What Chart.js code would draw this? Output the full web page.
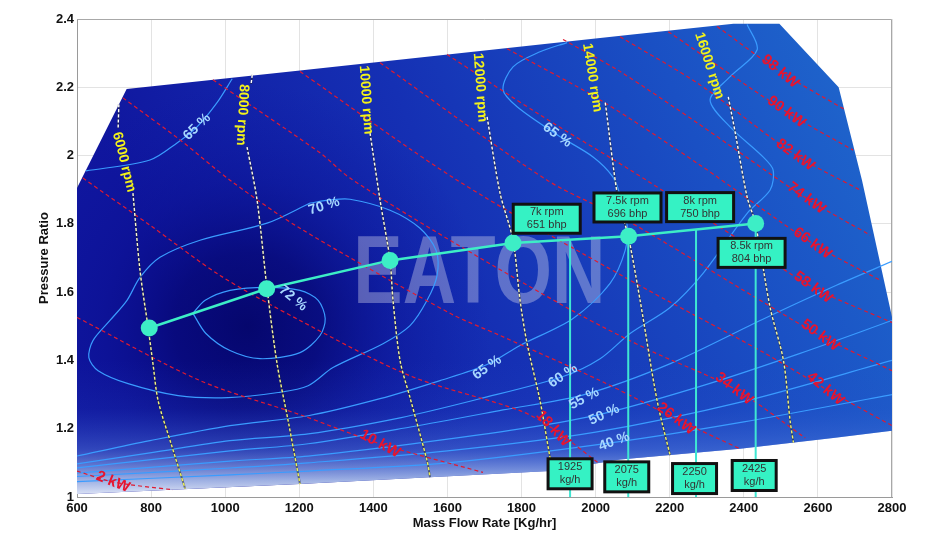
<!DOCTYPE html>
<html>
<head>
<meta charset="utf-8">
<title>Compressor map</title>
<script src="https://cdn.jsdelivr.net/npm/chart.js@4.4.1/dist/chart.umd.min.js"></script>
<style>
  html, body { margin: 0; padding: 0; background: #fff; }
  canvas { display: block; }
</style>
</head>
<body>
<canvas id="mapChart" width="943" height="546"></canvas>
<script>
// values: [mass flow kg/h, pressure ratio]
var flowTicks = [600, 2800, 200];
var prTicks = [1, 2.4, 0.2];

// map outline
var fieldTop = [[600,1.905],[734,2.195],[1202,2.249],[2093,2.354],[2372,2.386],[2496,2.386],[2656,2.2],[2719,1.928],[2800,1.527]];
var fieldBottom = [[600,1.009],[1200,1.038],[1877,1.076],[2066,1.11],[2390,1.141],[2641,1.173],[2800,1.194]];

// efficiency contours
var eff72 = [[913,1.538],[948,1.479],[1013,1.429],[1094,1.405],[1202,1.423],[1256,1.473],[1270,1.523],[1251,1.576],[1202,1.605],[1113,1.614],[1013,1.605],[946,1.576],[913,1.538]];
var eff70 = [[1229,1.861],[1113,1.802],[932,1.752],[824,1.702],[770,1.643],[735,1.576],[689,1.517],[643,1.458],[632,1.408],[657,1.37],[738,1.332],[873,1.297],[1008,1.291],[1143,1.306],[1224,1.326],[1291,1.379],[1426,1.449],[1499,1.502],[1545,1.576],[1572,1.649],[1569,1.723],[1526,1.787],[1445,1.84],[1337,1.872],[1283,1.87],[1229,1.861]];
var eff65a = [[624,1.955],[797,1.987],[870,2.037],[924,2.084],[978,2.155],[1019,2.225]];
var eff65 = [[600,1.12],[797,1.165],[1013,1.209],[1224,1.238],[1418,1.288],[1580,1.341],[1707,1.388],[1796,1.444],[1939,1.523],[2039,1.626],[2080,1.723],[2085,1.796],[2066,1.884],[2047,1.937],[1993,1.996],[1896,2.061],[1788,2.143],[1750,2.193],[1777,2.26],[1850,2.304],[1923,2.331]];
var eff60 = [[600,1.097],[797,1.129],[1013,1.165],[1224,1.185],[1472,1.232],[1688,1.288],[1912,1.353],[2012,1.405],[2093,1.479],[2201,1.555],[2290,1.655],[2409,1.831],[2471,1.899],[2479,1.958],[2452,1.996],[2363,2.084],[2309,2.163],[2363,2.231],[2436,2.31],[2409,2.384]];
var eff55 = [[600,1.085],[1013,1.135],[1224,1.156],[1500,1.205],[1750,1.255],[1969,1.3],[2200,1.39],[2450,1.52],[2650,1.62],[2800,1.69]];
var eff50 = [[600,1.07],[1013,1.105],[1224,1.12],[1500,1.155],[1800,1.2],[2023,1.245],[2300,1.33],[2550,1.42],[2800,1.517]];
var eff45 = [[600,1.06],[1013,1.085],[1224,1.1],[1600,1.135],[2000,1.19],[2400,1.28],[2800,1.4]];
var eff40 = [[600,1.045],[1013,1.065],[1224,1.076],[1600,1.1],[2050,1.16],[2400,1.22],[2800,1.3]];
var effLines = [eff72, eff70, eff65a, eff65, eff60, eff55, eff50, eff45, eff40];

var effLabels = ['65 %', '70 %', '72 %', '65 %', '65 %', '60 %', '55 %', '50 %', '40 %'];
var effLabelAt = [[924,2.084],[1267,1.852],[1183,1.582],[1896,2.06],[1707,1.379],[1912,1.355],[1969,1.288],[2023,1.241],[2050,1.162]];
var effLabelDeg = [-44, -17, 39, 36, -36, -34, -28, -25, -20];

// shaft power lines
var kwValues = [2, 10, 18, 26, 34, 42, 50, 58, 66, 74, 82, 90, 98];
var kwLines = [
  [[600,1.076],[697,1.044],[859,1.021]],
  [[600,1.526],[932,1.341],[1202,1.241],[1418,1.156],[1696,1.072]],
  [[616,1.934],[797,1.796],[986,1.649],[1202,1.517],[1499,1.355],[1796,1.253],[1885,1.2],[2007,1.1]],
  [[724,2.169],[878,2.046],[1013,1.928],[1202,1.787],[1607,1.538],[1742,1.473],[2012,1.341],[2217,1.229],[2390,1.141]],
  [[967,2.222],[1256,2.008],[1337,1.934],[1607,1.752],[1950,1.538],[2147,1.429],[2374,1.317],[2566,1.173]],
  [[1202,2.246],[1626,1.928],[2093,1.635],[2444,1.429],[2620,1.317],[2800,1.209]],
  [[1418,2.272],[1869,1.928],[2093,1.805],[2444,1.576],[2606,1.473],[2800,1.37]],
  [[1599,2.296],[1850,2.119],[2093,1.958],[2390,1.752],[2587,1.614],[2800,1.511]],
  [[1761,2.313],[2012,2.163],[2282,1.972],[2585,1.743],[2768,1.635]],
  [[1912,2.34],[2066,2.246],[2282,2.09],[2569,1.875],[2741,1.767]],
  [[2066,2.348],[2282,2.207],[2539,2.002],[2714,1.899]],
  [[2196,2.363],[2515,2.128],[2695,2.016]],
  [[2328,2.378],[2498,2.246],[2674,2.134]]
];
var kwLabelAt = [[697,1.044],[1418,1.156],[1885,1.2],[2217,1.229],[2374,1.317],[2620,1.317],[2606,1.473],[2587,1.614],[2585,1.743],[2569,1.875],[2539,2.002],[2515,2.128],[2498,2.246]];
var kwLabelDeg = [22, 28, 48, 37, 38, 40, 36, 36, 36, 36, 36, 36, 40];

// speed lines (null = gap under the label)
var rpmValues = [6000, 8000, 10000, 12000, 14000, 16000];
var rpmLines = [
  [[713,2.15],[711,2.08],null,[751,1.89],[770,1.664],[792,1.496],[805,1.391],[819,1.282],[854,1.156],[892,1.024]],
  [[1073,2.236],[1070,2.21],null,[1059,2.025],[1086,1.87],[1113,1.611],[1140,1.391],[1170,1.223],[1202,1.038]],
  [[1391,2.066],[1418,1.87],[1445,1.693],[1453,1.576],[1472,1.4],[1499,1.291],[1545,1.106],[1553,1.058]],
  [[1707,2.113],[1742,1.89],[1777,1.752],[1796,1.576],[1815,1.449],[1850,1.282],[1877,1.115],[1885,1.08]],
  [[2026,2.155],[2061,1.87],[2088,1.764],[2120,1.576],[2166,1.282],[2201,1.122]],
  [[2358,2.172],[2377,2.066],[2409,1.878],[2431,1.802],[2471,1.555],[2507,1.4],[2525,1.223],[2534,1.159]]
];
var rpmLabelAt = [[727,1.981],[1046,2.119],[1380,2.163],[1688,2.199],[1991,2.228],[2307,2.263]];
var rpmLabelDeg = [76, 93, 86, 86, 81, 72];

// operating line
var opFlow = [795, 1112, 1445, 1777, 2089, 2432];
var opPR = [1.495, 1.61, 1.693, 1.744, 1.764, 1.801];
var opNotes = [['7k rpm','651 bhp'],['7.5k rpm','696 bhp'],['8k rpm','750 bhp'],['8.5k rpm','804 bhp']];
var opNoteAt = [[1868,1.815],[2086,1.848],[2282,1.849],[2421,1.715]];

// flow markers down to the axis
var flowX = [1931, 2088, 2271, 2432];
var flowTop = [1.754, 1.764, 1.784, 1.801];
var flowNotes = ['1925', '2075', '2250', '2425'];
var flowNoteAt = [[1931,1.068],[2084,1.059],[2267,1.054],[2428,1.063]];

var logoAt = [1686, 1.658];

var FONT = '"Liberation Sans", Arial, sans-serif';
Chart.defaults.font.family = FONT;

function pts(list) {
  return list.map(function (p) { return p ? {x: p[0], y: p[1]} : {x: null, y: null}; });
}

function scalesOf(c) {
  var ch = c.chart;
  if (!ch.chartArea) return null;
  return {ctx: ch.ctx, x: ch.scales.x, y: ch.scales.y};
}

function fieldBase(c) {
  var s = scalesOf(c);
  if (!s) return '#1530b0';
  var g = s.ctx.createLinearGradient(s.x.getPixelForValue(900), s.y.getPixelForValue(1.45), s.x.getPixelForValue(2700), s.y.getPixelForValue(2.3));
  g.addColorStop(0, '#10169e');
  g.addColorStop(0.4, '#1530b4');
  g.addColorStop(0.75, '#1a50c4');
  g.addColorStop(1, '#1f66cc');
  return g;
}

function fieldCore(c) {
  var s = scalesOf(c);
  if (!s) return 'rgba(0,0,0,0)';
  var cx = s.x.getPixelForValue(1060), cy = s.y.getPixelForValue(1.5);
  var r = s.x.getPixelForValue(1720) - cx;
  var g = s.ctx.createRadialGradient(cx, cy, 0, cx, cy, r);
  g.addColorStop(0, 'rgba(3,3,100,0.85)');
  g.addColorStop(0.3, 'rgba(5,5,112,0.7)');
  g.addColorStop(0.6, 'rgba(8,12,140,0.35)');
  g.addColorStop(1, 'rgba(10,20,160,0)');
  return g;
}

function fieldFloor(c) {
  var s = scalesOf(c);
  if (!s) return 'rgba(0,0,0,0)';
  var g = s.ctx.createLinearGradient(0, s.y.getPixelForValue(1.0), 0, s.y.getPixelForValue(1.4));
  g.addColorStop(0, 'rgba(240,244,252,0.97)');
  g.addColorStop(0.12, 'rgba(185,205,240,0.85)');
  g.addColorStop(0.35, 'rgba(90,130,225,0.45)');
  g.addColorStop(0.65, 'rgba(50,90,210,0.12)');
  g.addColorStop(1, 'rgba(40,80,200,0)');
  return g;
}

function speedColor(c) {
  var s = scalesOf(c);
  if (!s) return '#f4f080';
  var g = s.ctx.createLinearGradient(0, s.y.getPixelForValue(2.1), 0, s.y.getPixelForValue(1.05));
  g.addColorStop(0, '#ffffff');
  g.addColorStop(0.5, '#f8f6b8');
  g.addColorStop(1, '#eef250');
  return g;
}

var datasets = [];
function add(ds) { datasets.push(ds); return ds; }

// field layers, all filled down to the bottom edge (dataset 0)
add({data: pts(fieldBottom), borderWidth: 0, pointRadius: 0, fill: false, order: 101});
add({data: pts(fieldTop), borderWidth: 0, pointRadius: 0, fill: 0, backgroundColor: fieldBase, order: 100});
add({data: pts(fieldTop), borderWidth: 0, pointRadius: 0, fill: 0, backgroundColor: fieldCore, order: 99});
add({data: pts(fieldTop), borderWidth: 0, pointRadius: 0, fill: 0, backgroundColor: fieldFloor, order: 98, logoAfter: true});

effLines.forEach(function (l) {
  add({data: pts(l), borderColor: '#3a9cff', borderWidth: 1.2, pointRadius: 0, fill: false, tension: 0.3, order: 50});
});

kwLines.forEach(function (l) {
  add({data: pts(l), borderColor: '#e01a30', borderWidth: 1.2, borderDash: [4, 3], pointRadius: 0, fill: false, tension: 0.3, order: 40});
});

rpmLines.forEach(function (l) {
  add({data: pts(l), borderColor: 'rgba(40,40,50,0.55)', borderWidth: 2, pointRadius: 0, fill: false, tension: 0.3, order: 31});
  add({data: pts(l), borderColor: speedColor, borderWidth: 1.4, borderDash: [3, 2], pointRadius: 0, fill: false, tension: 0.3, order: 30});
});

flowX.forEach(function (fx, i) {
  add({data: [{x: fx, y: flowTop[i]}, {x: fx, y: prTicks[0]}], borderColor: '#3fe6d2', borderWidth: 2, pointRadius: 0, fill: false, order: 20});
});

add({
  data: opFlow.map(function (f, i) { return {x: f, y: opPR[i]}; }),
  borderColor: '#3deec6', borderWidth: 2.5, pointRadius: 8.5, pointBackgroundColor: '#3deec6',
  pointBorderWidth: 0, fill: false, order: 10
});

function rotText(ctx, txt, px, py, deg, font, color) {
  ctx.save();
  ctx.translate(px, py);
  ctx.rotate(deg * Math.PI / 180);
  ctx.font = font;
  ctx.fillStyle = color;
  ctx.textAlign = 'center';
  ctx.textBaseline = 'middle';
  ctx.fillText(txt, 0, 0);
  ctx.restore();
}

function noteBox(ctx, cx, cy, w, h, lines) {
  ctx.fillStyle = '#35f2c4';
  ctx.fillRect(cx - w / 2, cy - h / 2, w, h);
  ctx.strokeStyle = '#111';
  ctx.lineWidth = 3;
  ctx.strokeRect(cx - w / 2, cy - h / 2, w, h);
  ctx.fillStyle = '#333';
  ctx.font = '11px ' + FONT;
  ctx.textAlign = 'center';
  ctx.textBaseline = 'middle';
  ctx.fillText(lines[0], cx, cy - 6.5);
  ctx.fillText(lines[1], cx, cy + 6.5);
}

var mapDecor = {
  id: 'mapDecor',
  beforeDatasetsDraw: function (chart) {
    var a = chart.chartArea, ctx = chart.ctx;
    ctx.save();
    ctx.strokeStyle = '#a8a8a8';
    ctx.lineWidth = 1;
    ctx.beginPath();
    ctx.moveTo(a.left, a.top + 0.5);
    ctx.lineTo(a.right - 0.5, a.top + 0.5);
    ctx.lineTo(a.right - 0.5, a.bottom);
    ctx.stroke();
    ctx.restore();
  },
  afterDatasetDraw: function (chart, args) {
    if (!chart.data.datasets[args.index].logoAfter) return;
    var ctx = chart.ctx, x = chart.scales.x, y = chart.scales.y;
    ctx.save();
    ctx.translate(x.getPixelForValue(logoAt[0]), y.getPixelForValue(logoAt[1]));
    ctx.scale(0.77, 1);
    ctx.font = 'bold 96px ' + FONT;
    ctx.fillStyle = 'rgba(225,225,240,0.36)';
    ctx.textAlign = 'center';
    ctx.textBaseline = 'middle';
    ctx.fillText('EATON', 0, 4);
    ctx.restore();
  },
  afterDatasetsDraw: function (chart) {
    var ctx = chart.ctx, x = chart.scales.x, y = chart.scales.y;
    ctx.save();
    effLabels.forEach(function (t, i) {
      rotText(ctx, t, x.getPixelForValue(effLabelAt[i][0]), y.getPixelForValue(effLabelAt[i][1]), effLabelDeg[i], 'bold 14px ' + FONT, '#a8d8ff');
    });
    kwValues.forEach(function (v, i) {
      rotText(ctx, v + ' kW', x.getPixelForValue(kwLabelAt[i][0]), y.getPixelForValue(kwLabelAt[i][1]), kwLabelDeg[i], 'bold 15px ' + FONT, '#e8142e');
    });
    rpmValues.forEach(function (v, i) {
      rotText(ctx, v + ' rpm', x.getPixelForValue(rpmLabelAt[i][0]), y.getPixelForValue(rpmLabelAt[i][1]), rpmLabelDeg[i], 'bold 14px ' + FONT, '#f2f21a');
    });
    opNotes.forEach(function (n, i) {
      noteBox(ctx, x.getPixelForValue(opNoteAt[i][0]), y.getPixelForValue(opNoteAt[i][1]), 67, 29, n);
    });
    flowNotes.forEach(function (n, i) {
      noteBox(ctx, x.getPixelForValue(flowNoteAt[i][0]), y.getPixelForValue(flowNoteAt[i][1]), 44, 30, [n, 'kg/h']);
    });
    ctx.restore();
  }
};

var tickFont = {size: 13, weight: 'bold'};
function plainTick(v) { return String(Math.round(v * 10) / 10); }

new Chart(document.getElementById('mapChart'), {
  type: 'line',
  data: {datasets: datasets},
  plugins: [mapDecor],
  options: {
    responsive: false,
    animation: false,
    events: [],
    layout: {padding: {top: 19, right: 51, left: 0, bottom: 0}},
    plugins: {legend: {display: false}, tooltip: {enabled: false}},
    scales: {
      x: {
        type: 'linear', min: flowTicks[0], max: flowTicks[1],
        ticks: {stepSize: flowTicks[2], font: tickFont, color: '#111', padding: 4, maxRotation: 0, callback: plainTick},
        grid: {color: '#e3e3e3', drawTicks: false},
        border: {color: '#9a9a9a'},
        title: {display: true, text: 'Mass Flow Rate [Kg/hr]', font: tickFont, color: '#111', padding: {top: 0, bottom: 15}},
        afterFit: function (s) { s.height = 49; }
      },
      y: {
        type: 'linear', min: prTicks[0], max: prTicks[1],
        ticks: {stepSize: prTicks[2], font: tickFont, color: '#111', padding: 3, callback: plainTick},
        grid: {color: '#e3e3e3', drawTicks: false},
        border: {color: '#9a9a9a'},
        title: {display: true, text: 'Pressure Ratio', font: tickFont, color: '#111', padding: {top: 37, bottom: 0}},
        afterFit: function (s) { s.width = 77; }
      }
    }
  }
});
</script>
</body>
</html>
